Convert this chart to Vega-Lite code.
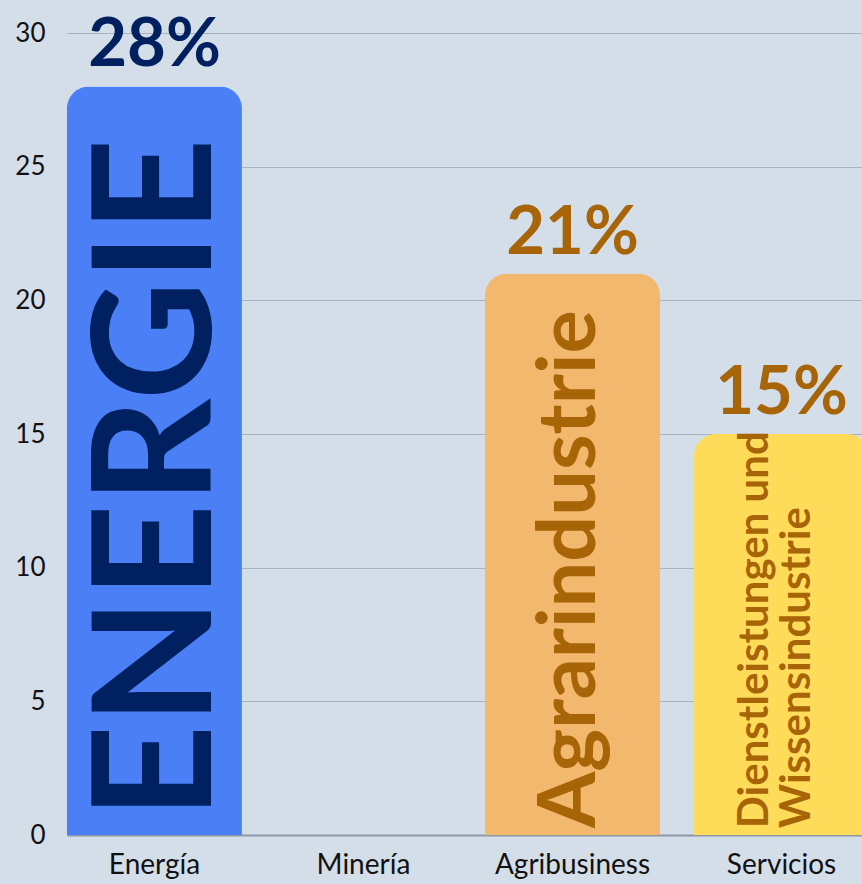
{
  "$schema": "https://vega.github.io/schema/vega-lite/v6.json",
  "width": 802,
  "height": 802,
  "autosize": {"type": "none"},
  "padding": {"left": 67, "top": 33, "right": 0, "bottom": 49},
  "background": "#d4dee9",
  "config": {"view": {"stroke": null}, "font": "Lato"},
  "data": {
    "values": [
      {"sector": "Energía", "value": 28, "pct": "28%", "inner": "ENERGIE"},
      {"sector": "Minería", "value": 0, "pct": "", "inner": ""},
      {"sector": "Agribusiness", "value": 21, "pct": "21%", "inner": "Agrarindustrie"},
      {"sector": "Servicios", "value": 15, "pct": "15%", "inner": "Dienstleistungen und\nWissensindustrie"}
    ]
  },
  "encoding": {
    "x": {
      "field": "sector",
      "type": "nominal",
      "sort": null,
      "scale": {"paddingInner": 0.163, "paddingOuter": 0},
      "axis": {
        "title": null,
        "labelAngle": 0,
        "ticks": false,
        "grid": false,
        "domainColor": "#8d98a4",
        "domainWidth": 2,
        "labelFontSize": 28,
        "labelColor": "#111111",
        "labelFont": "Lato",
        "labelPadding": 16,
        "zindex": 0
      }
    },
    "y": {
      "field": "value",
      "type": "quantitative",
      "scale": {"domain": [0, 30]},
      "axis": {
        "title": null,
        "values": [0, 5, 10, 15, 20, 25, 30],
        "domain": false,
        "ticks": false,
        "labelFontSize": 26,
        "labelColor": "#111111",
        "labelFont": "Lato",
        "labelPadding": 22,
        "gridColor": "#a9b3be",
        "gridWidth": 1
      }
    }
  },
  "layer": [
    {
      "mark": {"type": "bar", "cornerRadiusTopLeft": 22, "cornerRadiusTopRight": 22},
      "encoding": {
        "fill": {
          "field": "sector",
          "type": "nominal",
          "scale": {"domain": ["Energía", "Minería", "Agribusiness", "Servicios"], "range": ["#4a7ff5", "#d4dee9", "#f2b86d", "#fedc5a"]},
          "legend": null
        }
      }
    },
    {
      "mark": {"type": "text", "baseline": "alphabetic", "dy": -20, "fontSize": 67, "fontWeight": "bold"},
      "encoding": {
        "text": {"field": "pct"},
        "color": {
          "field": "sector",
          "type": "nominal",
          "scale": {"domain": ["Energía", "Minería", "Agribusiness", "Servicios"], "range": ["#002060", "#002060", "#a86508", "#a86508"]},
          "legend": null
        }
      }
    },
    {
      "transform": [{"filter": "datum.sector === 'Energía'"}],
      "mark": {"type": "text", "angle": 270, "align": "left", "baseline": "middle", "dx": 16, "dy": 8, "fontSize": 164, "fontWeight": "bold"},
      "encoding": {
        "y": {"datum": 0},
        "text": {"field": "inner"},
        "color": {"field": "sector", "type": "nominal", "legend": null}
      }
    },
    {
      "transform": [{"filter": "datum.sector === 'Agribusiness'"}],
      "mark": {"type": "text", "angle": 270, "align": "left", "baseline": "middle", "dx": 7, "dy": -2, "fontSize": 81, "fontWeight": "bold"},
      "encoding": {
        "y": {"datum": 0},
        "text": {"field": "inner"},
        "color": {"field": "sector", "type": "nominal", "legend": null}
      }
    },
    {
      "transform": [{"filter": "datum.sector === 'Servicios'"}],
      "mark": {"type": "text", "angle": 270, "align": "left", "baseline": "middle", "dx": 7, "dy": -27, "fontSize": 42, "fontWeight": "bold", "lineBreak": "\n", "lineHeight": 42},
      "encoding": {
        "y": {"datum": 0},
        "text": {"field": "inner"},
        "color": {"field": "sector", "type": "nominal", "legend": null}
      }
    }
  ]
}
